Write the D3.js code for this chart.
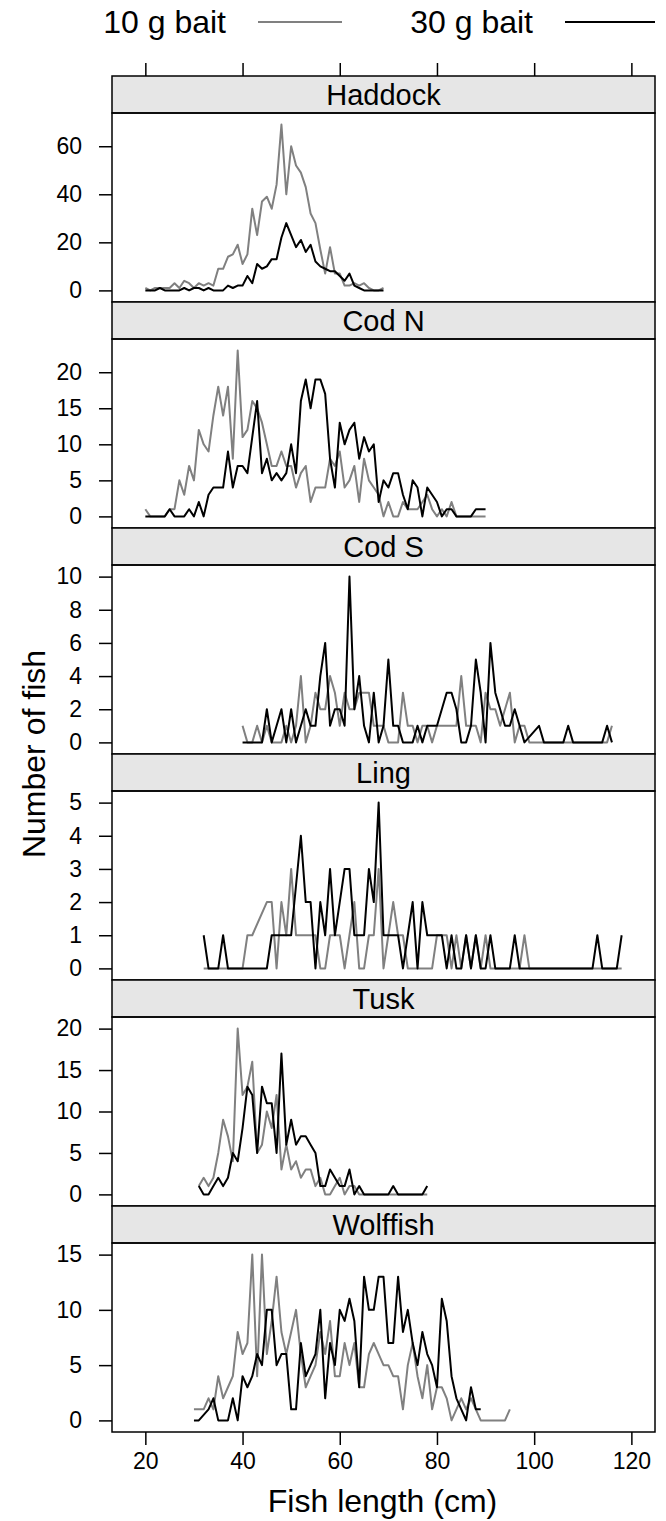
<!DOCTYPE html>
<html>
<head>
<meta charset="utf-8">
<script src="https://cdn.jsdelivr.net/npm/d3@7.9.0/dist/d3.min.js"></script>
<style>
  html, body { margin: 0; padding: 0; background: #fff; }
  svg text { font-family: "Liberation Sans", Arial, Helvetica, sans-serif; fill: #000; }
</style>
</head>
<body>
<div id="vis"></div>
<script>
// counts per 1 cm length class, first value at the given start length
// null = no fish of that length (line just joins the neighbours)
const species = ['Haddock', 'Cod N', 'Cod S', 'Ling', 'Tusk', 'Wolffish'];
const baits = ['10 g bait', '30 g bait'];

const haddockStart = 20;
const haddock10 = [1,0,1,1,1,1,3,1,4,3,1,3,2,3,2,9,9,14,15,19,11,15,34,23,37,39,34,44,69,40,60,52,49,43,32,28,17,7,18,7,7,2,2,3,2,3,1,0,0,1];
const haddock30 = [0,0,0,1,0,0,0,0,1,0,1,1,0,1,0,0,0,2,1,2,2,6,3,11,9,10,13,13,22,28,23,18,21,16,19,12,10,9,8,8,6,4,7,2,1,0,0,0,0,0];

const codNStart = 20;
const codN10 = [1,0,0,0,0,1,1,5,3,7,5,12,10,9,14,18,14,18,8,23,11,12,16,15,13,10,7,7,9,7,7,4,6,7,2,4,4,4,8,7,9,4,5,7,2,8,5,4,3,0,2,0,0,2,1,1,1,2,3,1,0,1,0,2,0,0,0,0,0,0,0];
const codN30 = [0,0,0,0,0,1,0,0,0,1,0,2,0,3,4,4,4,9,4,7,7,6,11,16,6,8,5,6,5,6,10,6,16,19,15,19,19,17,8,4,13,10,12,13,8,11,9,10,2,5,4,6,6,3,1,5,4,0,4,3,2,0,1,1,0,0,0,0,1,1,1];

const codSStart = 40;
const codS10 = [1,0,0,1,0,1,0,0,0,1,0,1,4,0,1,3,2,2,4,3,1,3,2,2,3,3,3,1,1,1,0,0,0,3,1,1,0,1,1,0,1,1,1,1,1,4,1,1,1,0,3,2,2,1,2,3,0,1,1,0,0,0,0,0,0,0,0,0,0,0,0,0,0,0,0,0,1];
const codS30 = [0,0,0,0,0,2,0,1,2,0,2,0,1,2,1,1,4,6,1,2,2,1,10,2,4,1,0,3,0,1,5,1,1,0,0,0,1,0,1,1,1,2,3,3,2,0,0,1,5,3,0,6,3,2,1,1,2,1,0,null,null,1,0,0,0,0,0,1,0,0,0,0,0,0,0,1,0];

const lingStart = 32;
const ling10 = [0,0,0,0,0,0,0,0,0,1,1,null,null,2,2,0,2,1,3,1,1,1,1,1,0,0,1,1,1,0,1,2,0,0,1,1,3,0,1,2,1,1,0,0,0,0,0,0,1,1,1,0,1,0,1,0,1,0,1,0,0,0,0,0,0,0,1,0,0,0,0,0,0,0,0,0,0,0,0,0,0,0,0,0,0,0,0];
const ling30 = [1,0,0,0,1,0,0,0,0,0,0,0,0,0,1,1,1,1,1,null,4,2,2,0,2,1,3,1,2,3,3,1,1,1,3,2,5,1,1,1,1,0,1,2,0,2,1,1,1,1,0,1,0,0,1,0,1,0,0,1,0,0,0,0,1,0,0,0,0,0,0,0,0,0,0,0,0,0,0,0,0,1,0,0,0,0,1];

const tuskStart = 31;
const tusk10 = [1,2,1,2,5,9,7,4,20,12,13,16,5,6,10,8,12,3,6,3,4,2,3,3,1,2,0,0,1,2,0,1,1,0,0,0,0,0,0,0,0,0,0,0,0,0,0,0];
const tusk30 = [1,0,0,1,2,1,2,5,4,8,13,12,5,13,11,11,5,17,6,9,6,7,7,6,5,1,1,3,2,1,1,3,0,1,0,0,0,0,0,0,1,0,0,0,0,0,0,1];

const wolfStart = 30;
const wolf10 = [1,1,1,2,1,4,2,3,4,8,6,7,15,4,15,6,9,13,8,6,8,10,6,3,4,5,8,6,9,4,4,7,5,7,3,3,6,7,6,5,5,4,4,1,5,7,4,2,5,1,3,3,2,0,1,2,1,2,1,0,0,0,0,0,0,1];
const wolf30 = [0,0,null,1,2,0,0,0,2,0,4,3,4,6,5,10,10,5,6,6,1,1,7,4,5,6,10,2,7,5,10,9,11,9,3,13,10,10,13,13,7,7,13,8,10,7,5,8,6,5,3,11,9,4,2,1,0,3,1,1];

const yTicks = [[0,20,40,60],[0,5,10,15,20],[0,2,4,6,8,10],[0,1,2,3,4,5],[0,5,10,15,20],[0,5,10,15]];
const xTicks = [20, 40, 60, 80, 100, 120];

(function() {
  const counts = [
    [haddockStart, haddock10, haddock30],
    [codNStart, codN10, codN30],
    [codSStart, codS10, codS30],
    [lingStart, ling10, ling30],
    [tuskStart, tusk10, tusk30],
    [wolfStart, wolf10, wolf30]
  ];

  function toPoints(start, arr) {
    return arr.map((n, i) => ({len: start + i, n: n})).filter(d => d.n !== null);
  }
  const panels = species.map((s, i) => ({
    name: s,
    ticks: yTicks[i],
    series: [toPoints(counts[i][0], counts[i][1]), toPoints(counts[i][0], counts[i][2])]
  }));

  // lattice style 7% padding on the data range
  function pad(ext) { const d = ext[1] - ext[0]; return [ext[0] - 0.07 * d, ext[1] + 0.07 * d]; }

  const W = 666, H = 1521;
  const mLeft = 112, mRight = 655, mTop = 76, stripH = 37, panelH = 189;
  const colors = ['#808080', '#000000'];

  const svg = d3.select('#vis').append('svg').attr('width', W).attr('height', H);

  const allLen = panels.flatMap(p => p.series.flat().map(d => d.len));
  const x = d3.scaleLinear().domain(pad(d3.extent(allLen))).range([mLeft, mRight]);

  panels.forEach((p, i) => {
    const y0 = mTop + i * (stripH + panelH);
    const py = y0 + stripH;
    const allN = p.series.flat().map(d => d.n);
    const y = d3.scaleLinear().domain(pad(d3.extent(allN))).range([py + panelH, py]);

    const g = svg.append('g');

    // strip
    g.append('rect').attr('x', mLeft).attr('y', y0).attr('width', mRight - mLeft).attr('height', stripH)
      .attr('fill', '#e6e6e6').attr('stroke', '#000').attr('stroke-width', 1.5);
    g.append('text').attr('x', (mLeft + mRight) / 2).attr('y', y0 + stripH / 2 + 10)
      .attr('text-anchor', 'middle').style('font-size', '29px').text(p.name);

    // lines
    const line = d3.line().x(d => x(d.len)).y(d => y(d.n));
    p.series.forEach((s, k) => {
      g.append('path').datum(s).attr('d', line).attr('fill', 'none')
        .attr('stroke', colors[k]).attr('stroke-width', 2).attr('stroke-linejoin', 'round');
    });

    // panel box
    g.append('rect').attr('x', mLeft).attr('y', py).attr('width', mRight - mLeft).attr('height', panelH)
      .attr('fill', 'none').attr('stroke', '#000').attr('stroke-width', 1.5);

    // y axis
    const ya = g.append('g').attr('transform', `translate(${mLeft},0)`)
      .call(d3.axisLeft(y).tickValues(p.ticks).tickFormat(d3.format('d')).tickSize(13).tickPadding(17));
    ya.select('.domain').remove();
    ya.selectAll('line').attr('stroke', '#000').attr('stroke-width', 1.5);
    ya.selectAll('text').style('font-size', '23px').attr('fill', '#000');
  });

  const mBottom = mTop + 6 * (stripH + panelH);

  // top ticks (no labels)
  const xt = svg.append('g').attr('transform', `translate(0,${mTop})`)
    .call(d3.axisTop(x).tickValues(xTicks).tickSize(13).tickFormat(''));
  xt.select('.domain').remove();
  xt.selectAll('line').attr('stroke', '#000').attr('stroke-width', 1.5);

  // bottom axis
  const xb = svg.append('g').attr('transform', `translate(0,${mBottom})`)
    .call(d3.axisBottom(x).tickValues(xTicks).tickSize(13).tickPadding(8));
  xb.select('.domain').remove();
  xb.selectAll('line').attr('stroke', '#000').attr('stroke-width', 1.5);
  xb.selectAll('text').style('font-size', '23px').attr('fill', '#000');

  // axis titles
  svg.append('text').attr('x', (mLeft + mRight) / 2 - 1).attr('y', 1512).attr('text-anchor', 'middle')
    .style('font-size', '32px').text('Fish length (cm)');
  svg.append('text').attr('transform', `translate(45,${(mTop + mBottom) / 2}) rotate(-90)`)
    .attr('text-anchor', 'middle').style('font-size', '32px').text('Number of fish');

  // legend: text right-aligned before its line
  const legend = [
    {label: baits[0], x1: 258, x2: 342},
    {label: baits[1], x1: 565, x2: 655}
  ];
  legend.forEach((d, k) => {
    svg.append('text').attr('x', d.x1 - 32).attr('y', 33).attr('text-anchor', 'end')
      .style('font-size', '32px').text(d.label);
    svg.append('line').attr('x1', d.x1).attr('x2', d.x2).attr('y1', 22).attr('y2', 22)
      .attr('stroke', colors[k]).attr('stroke-width', 2);
  });
})();
</script>
</body>
</html>
